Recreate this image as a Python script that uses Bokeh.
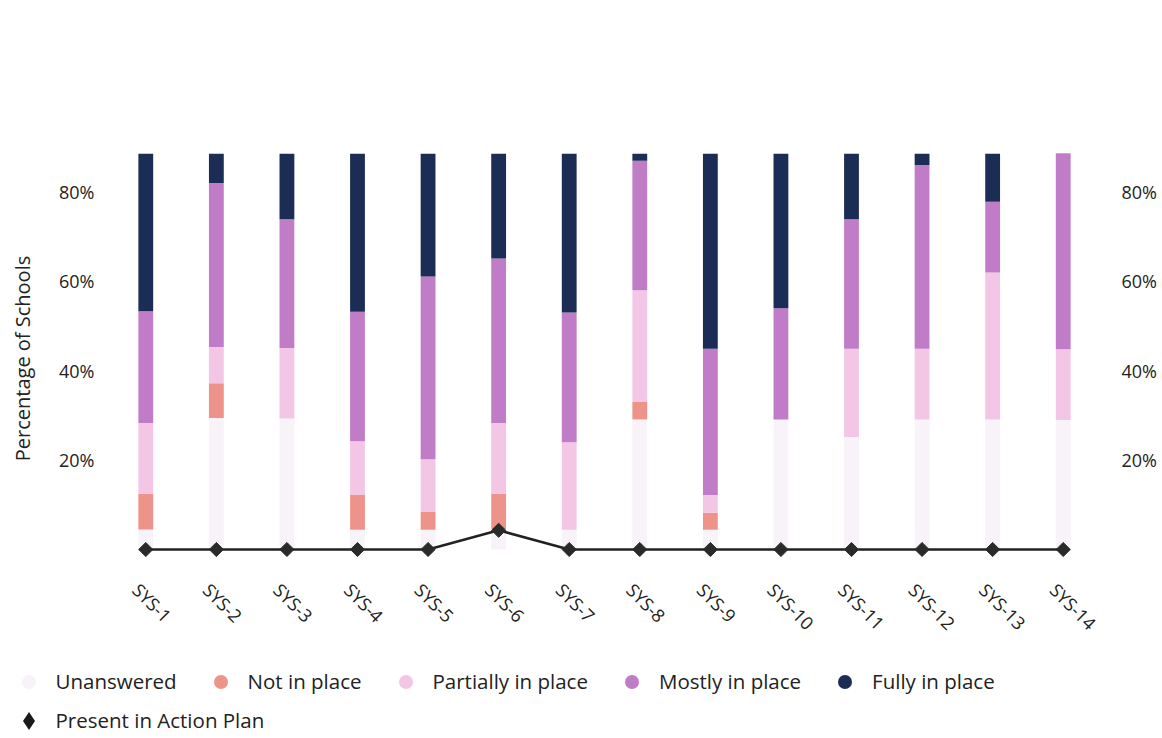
import math
from bokeh.plotting import figure
from bokeh.layouts import column
from bokeh.models import (ColumnDataSource, Legend, LegendItem, LinearAxis,
                          FixedTicker, Range1d)
from bokeh.embed import file_html
from bokeh.resources import INLINE

# ---- data (percent of schools) ----
categories = ["SYS-1", "SYS-2", "SYS-3", "SYS-4", "SYS-5", "SYS-6", "SYS-7",
              "SYS-8", "SYS-9", "SYS-10", "SYS-11", "SYS-12", "SYS-13", "SYS-14"]
unanswered = [4.5, 29.4, 29.3, 4.4, 4.4, 4.6, 4.4, 29.1, 4.4, 29.1, 25.2, 29.1, 29.1, 29.0]
not_in_place = [8.0, 7.8, 0.0, 7.9, 4.0, 7.9, 0.0, 3.9, 3.8, 0.0, 0.0, 0.0, 0.0, 0.0]
partially = [15.8, 8.1, 15.8, 11.9, 11.8, 15.8, 19.6, 25.0, 4.0, 0.0, 19.7, 15.8, 32.9, 15.8]
mostly = [25.0, 36.7, 28.8, 29.0, 40.9, 36.8, 29.0, 29.0, 32.7, 24.9, 29.0, 41.1, 15.8, 55.2]
fully = [46.7, 18.0, 26.1, 46.8, 38.9, 34.9, 47.0, 13.0, 55.1, 46.0, 26.1, 14.0, 22.2, 0.0]
action_plan = [0, 0, 0, 0, 0, 4.3, 0, 0, 0, 0, 0, 0, 0, 0]

series_names = ["Unanswered", "Not in place", "Partially in place", "Mostly in place", "Fully in place"]
series_keys = ["unanswered", "not_in_place", "partially", "mostly", "fully"]
colors = ["#f7f3f8", "#ee9389", "#f3c6e6", "#c07cc6", "#1b2c55"]
tick_values = [20, 40, 60, 80]
tick_labels = ["20%", "40%", "60%", "80%"]

n = len(categories)
positions = list(range(1, n + 1))  # slot index of each category

src = ColumnDataSource(dict(cat=categories, xi=positions, unanswered=unanswered,
                            not_in_place=not_in_place, partially=partially,
                            mostly=mostly, fully=fully, action=action_plan))

FONT = "Open Sans"
TXT = "#222222"

p = figure(x_range=Range1d(0.5, n + 0.5), y_range=Range1d(-3.13, 88.6),
           width=1162, height=655, output_backend="svg", toolbar_location=None,
           x_axis_location=None,
           min_border_left=110, min_border_right=64, min_border_top=153,
           min_border_bottom=92)
p.frame_align = False
p.outline_line_color = None
p.xgrid.visible = False
p.ygrid.visible = False

p.vbar_stack(series_keys, x="xi", width=0.21, color=colors, line_color=None, source=src)

p.line(x="xi", y="action", source=src, line_color="#222222", line_width=2.5)
p.scatter(x="xi", y="action", source=src, marker="square", angle=math.pi / 4,
          size=10, fill_color="#2a2a2a", line_color="#2a2a2a")

# y axes
overrides = {v: l for v, l in zip(tick_values, tick_labels)}
p.yaxis.ticker = FixedTicker(ticks=tick_values)
p.yaxis.major_label_overrides = overrides
p.yaxis.axis_label = "Percentage of Schools"
p.yaxis.axis_label_text_font = FONT
p.yaxis.axis_label_text_font_size = "20px"
p.yaxis.axis_label_text_font_style = "normal"
p.yaxis.axis_label_text_color = TXT
p.yaxis.axis_label_standoff = 20
p.yaxis.major_label_standoff = 10

ra = LinearAxis(ticker=FixedTicker(ticks=tick_values),
                major_label_overrides=overrides, major_label_standoff=17)
p.add_layout(ra, "right")

# x axis with category labels (slightly shifted like the reference)
p.extra_x_ranges = {"lab": Range1d(0.5 + 0.14, n + 0.5 + 0.14)}
xa = LinearAxis(x_range_name="lab", ticker=FixedTicker(ticks=positions),
                major_label_overrides={i: c for i, c in zip(positions, categories)},
                major_label_orientation=-math.pi / 4, major_label_standoff=17)
p.add_layout(xa, "below")

for ax in [p.yaxis[0], ra, xa]:
    ax.axis_line_color = None
    ax.major_tick_line_color = None
    ax.minor_tick_line_color = None
    ax.major_label_text_font = FONT
    ax.major_label_text_font_size = "18px"
    ax.major_label_text_color = TXT

# ---- legend strip (frame spans the full width) ----
lf = figure(width=1162, height=83, output_backend="svg", toolbar_location=None,
            x_range=Range1d(0, 1), y_range=Range1d(0, 1),
            x_axis_location=None, y_axis_location=None,
            min_border_left=0, min_border_right=0, min_border_top=0, min_border_bottom=0)
lf.frame_align = False
lf.outline_line_color = None
lf.xgrid.visible = False
lf.ygrid.visible = False

nan = float("nan")
items = []
for name, c in zip(series_names, colors):
    r = lf.scatter(x=[nan], y=[nan], marker="circle", fill_color=c, line_color=None)
    items.append(LegendItem(label=name, renderers=[r], index=0))
rd = lf.scatter(x=[nan], y=[nan], marker="diamond", fill_color="#1a1a1a", line_color=None)

leg1 = Legend(items=items, orientation="horizontal", location=(10.5, 39.5),
              glyph_width=35, glyph_height=35, label_standoff=10, spacing=26,
              padding=0, margin=0, border_line_color=None, background_fill_alpha=0,
              label_text_font=FONT, label_text_font_size="20.5px", label_text_color=TXT)
leg2 = Legend(items=[LegendItem(label="Present in Action Plan", renderers=[rd], index=0)],
              orientation="horizontal", location=(5.5, -4.5),
              glyph_width=45, glyph_height=45, label_standoff=5, spacing=0,
              padding=0, margin=0, border_line_color=None, background_fill_alpha=0,
              label_text_font=FONT, label_text_font_size="20.5px", label_text_color=TXT)
lf.add_layout(leg1, "center")
lf.add_layout(leg2, "center")

layout = column(p, lf, spacing=0)
open("out.html", "w").write(file_html(layout, INLINE))
